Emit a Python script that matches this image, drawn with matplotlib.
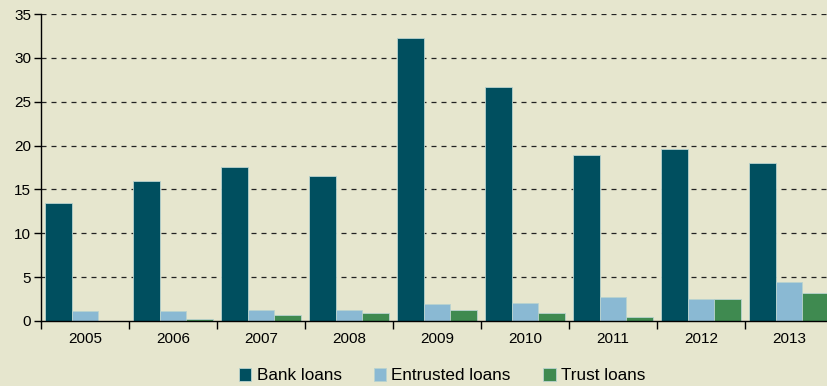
import numpy as np
import matplotlib.pyplot as plt

plt.rcParams['font.family'] = ['Liberation Sans', 'DejaVu Sans']

years = ['2005', '2006', '2007', '2008', '2009', '2010', '2011', '2012', '2013']
bank_loans = [13.5, 16.0, 17.6, 16.5, 32.3, 26.7, 18.9, 19.6, 18.0]
entrusted_loans = [1.1, 1.1, 1.3, 1.3, 1.9, 2.1, 2.7, 2.5, 4.4]
trust_loans = [0.0, 0.25, 0.7, 0.9, 1.3, 0.9, 0.45, 2.5, 3.2]

bg = '#e6e6ce'
fig = plt.figure(figsize=(8.28, 3.86), dpi=100, facecolor=bg)
ax = fig.add_axes([41 / 828, 1 - 321 / 386, 1 - 41 / 828, (321 - 14) / 386])
ax.set_facecolor(bg)

x = np.arange(len(years))
w = 0.3
edge = dict(edgecolor='#b9d3cf', linewidth=0.6)
ax.bar(x + 0.05, bank_loans, w, align='edge', color='#004f5f', label='Bank loans', zorder=3, **edge)
ax.bar(x + 0.05 + w, entrusted_loans, w, align='edge', color='#8ab9d3', label='Entrusted loans', zorder=3, **edge)
ax.bar(x + 0.05 + 2 * w, trust_loans, w, align='edge', color='#3f8a50', label='Trust loans', zorder=3, **edge)

ax.set_xlim(0, 787 / 88)
ax.set_ylim(0, 35)
ax.set_yticks(range(0, 36, 5))
ax.set_xticks(x)
ax.set_xticklabels([])
ax.set_xticks(x + 0.5, minor=True)
ax.set_xticklabels(years, minor=True)
ax.tick_params(axis='x', which='major', length=6, width=1, direction='out')
ax.tick_params(axis='x', which='minor', length=0, pad=8, labelsize=11)
ax.tick_params(axis='y', length=5, width=1, labelsize=11, pad=2)

for v in range(5, 36, 5):
    ax.axhline(v, color='#222222', linewidth=0.9, linestyle=(0, (4, 4)), zorder=1)

for s in ['top', 'right']:
    ax.spines[s].set_visible(False)
ax.spines['left'].set_linewidth(1)
ax.spines['bottom'].set_linewidth(1)
ax.spines['bottom'].set_zorder(4)

fig.legend(loc='center', bbox_to_anchor=(0.534, 0.026), ncol=3, frameon=False,
           fontsize=12.3, handlelength=0.72, handleheight=0.72, handletextpad=0.3,
           columnspacing=1.9)

fig.savefig('out.png', dpi=100, facecolor=bg)
